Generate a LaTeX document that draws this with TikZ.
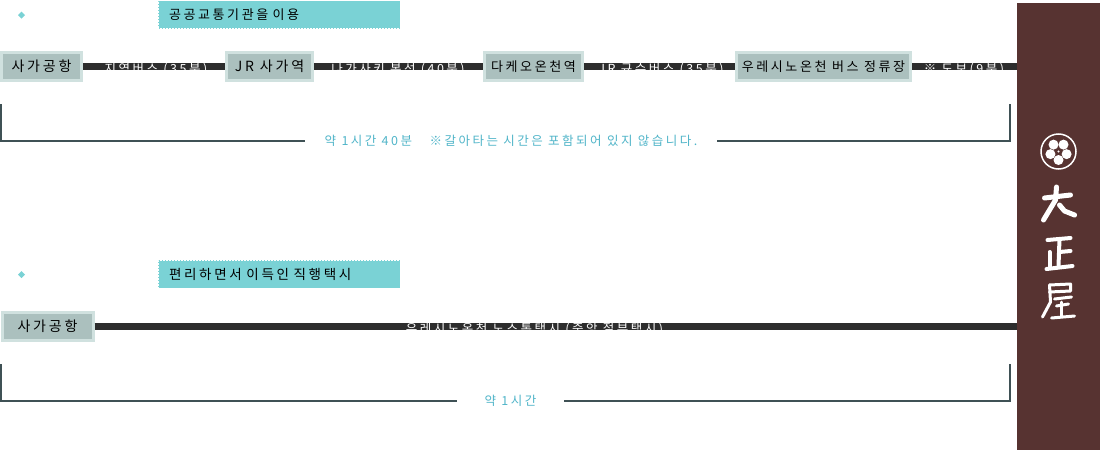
\documentclass[tikz,border=0pt]{standalone}
\usepackage{fontspec}
\setmainfont[LetterSpace=20]{Noto Sans CJK KR}
\usetikzlibrary{positioning}

\definecolor{bandbrown}{HTML}{573331}
\definecolor{barteal}{HTML}{7AD2D5}
\definecolor{stopfill}{HTML}{ABC0BE}
\definecolor{stopedge}{HTML}{D0E1DF}
\definecolor{linedark}{HTML}{2D2D2D}
\definecolor{framedark}{HTML}{3F5155}
\definecolor{timeblue}{HTML}{4FB4C8}

\begin{document}
\begin{tikzpicture}[
  x=1pt, y=-1pt,
  stopbox/.style={draw=stopedge, line width=3pt, fill=stopfill, inner sep=0pt,
    minimum height=28pt, text=black, font=\fontsize{14}{16}\selectfont},
  titlebar/.style={fill=barteal, draw=white, densely dotted, line width=0.5pt, inner sep=0pt,
    minimum width=242pt, minimum height=28pt, text width=220pt, align=left,
    font=\fontsize{13}{15}\selectfont},
  ride/.style={text=white, inner sep=0pt, font=\fontsize{12.5}{15}\selectfont},
  timetext/.style={text=timeblue, inner sep=0pt, minimum height=14pt, font=\fontsize{12.5}{15}\selectfont},
  track/.style={linedark, line width=7pt},
  frameline/.style={draw=framedark, line width=2pt},
  logostroke/.style={draw=white, line cap=round, line join=round},
]
\useasboundingbox (0,0) rectangle (1100,450);

% ── route by public transport ─────────────────────────────
\fill[barteal] (21.5,11.5) -- (25,15) -- (21.5,18.5) -- (18,15) -- cycle;
\node[titlebar] (bustitle) at (279,14.5) {공공교통기관을 이용};

\coordinate (busend) at (1017,66.5);
\node[stopbox, minimum width=80pt] (saga) at (41.5,66.5) {사가공항};
\node[stopbox, minimum width=86pt] (sagast) at (269.5,66.5) {JR 사가역};
\node[stopbox, minimum width=98pt, font=\fontsize{13}{16}\selectfont] (takeo) at (533.5,66.5) {다케오온천역};
\node[stopbox, minimum width=174pt, font=\fontsize{13}{16}\selectfont] (ureshino) at (823.5,66.5) {우레시노온천 버스 정류장};

\draw[track] (saga) -- (sagast);
\draw[track] (sagast) -- (takeo);
\draw[track] (takeo) -- (ureshino);
\draw[track] (ureshino) -- (busend);

\node[ride] (ride1) at (156,70) {지역버스 (35분)};
\node[ride] (ride2) at (398,70) {나가사키 본선 (40분)};
\node[ride] (ride3) at (661,70) {JR 규슈버스 (35분)};
\node[ride] (ride4) at (964,70) {※ 도보(9분)};

\coordinate (busleft) at (1,104);
\coordinate (busright) at (1010,104);
\node[timetext, minimum width=412pt] (bustime) at (511,141) {약 1시간 40분　※갈아타는 시간은 포함되어 있지 않습니다.};
\draw[frameline] (busleft) |- (bustime.west);
\draw[frameline] (busright) |- (bustime.east);

% ── route by direct taxi ──────────────────────────────────
\fill[barteal] (21.5,271) -- (25,274.5) -- (21.5,278) -- (18,274.5) -- cycle;
\node[titlebar, font=\fontsize{13.5}{15}\selectfont] (taxititle) at (279,274) {편리하면서 이득인 직행택시};

\coordinate (taxiend) at (1017,326.5);
\node[stopbox, minimum width=91pt] (sagataxi) at (47.5,326.5) {사가공항};
\draw[track] (sagataxi) -- (taxiend);
\node[ride] (ride5) at (534.5,330) {우레시노온천 노스톱택시 (중앙 절부택시)};

\coordinate (taxileft) at (1,364);
\coordinate (taxiright) at (1010,364);
\node[timetext, minimum width=107pt] (taxitime) at (510.5,401) {약 1시간};
\draw[frameline] (taxileft) |- (taxitime.west);
\draw[frameline] (taxiright) |- (taxitime.east);

% ── the brown band, the crest and the name on it ──────────
\fill[bandbrown] (1017,3) rectangle (1100,450);

\begin{scope}[shift={(1058.5,151.5)}]
  \draw[white, line width=1.5pt] (0,0) circle (17.5);
  \foreach \a in {90,162,234,306,18}
    \fill[white] (\a:8.5) circle (5);
  \fill[bandbrown] (0,0) circle (2.6);
  \fill[white] (0,0) circle (1.2);
\end{scope}

\begin{scope}[shift={(1058.5,205)}, logostroke, line width=5pt]
  \draw (-14,-7) -- (12,-10);
  \draw (-2,-18) -- (-3,-5) -- (-15,15);
  \draw (1,0) -- (6,6) -- (16,10);
\end{scope}
\begin{scope}[shift={(1058.5,254)}, logostroke, line width=4pt]
  \draw (-11,-14) -- (12,-16);
  \draw (1,-15) -- (0,12);
  \draw (1,-2) -- (12,-3);
  \draw (-9,-2) -- (-9,13);
  \draw (-12,15) -- (14,12);
\end{scope}
\begin{scope}[shift={(1058.5,302)}, logostroke, line width=3pt]
  \draw (-9,-17) -- (12,-18) -- (12,-11) -- (-9,-10);
  \draw (-9,-17) -- (-8,0) -- (-16,15);
  \draw (-4,-3) -- (13,-5);
  \draw (-2,4) -- (10,2);
  \draw (3,0) -- (3,14);
  \draw (-7,16) -- (16,14);
\end{scope}

\end{tikzpicture}
\end{document}
